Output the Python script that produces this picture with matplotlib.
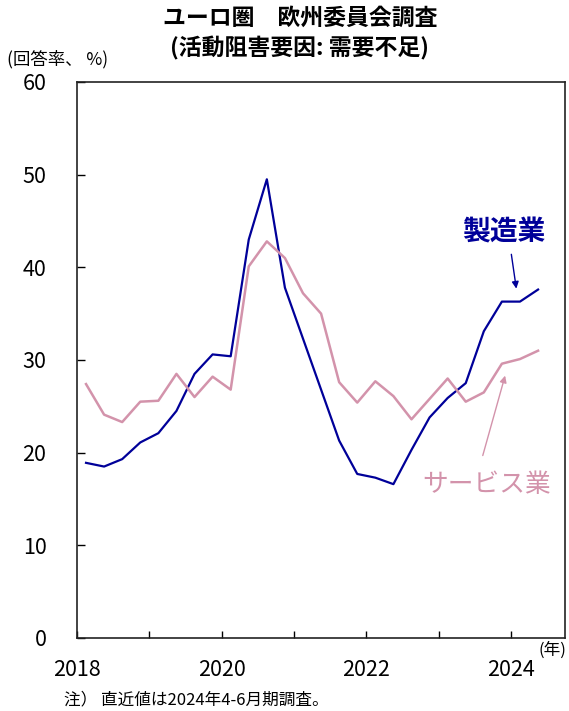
import numpy as np
import matplotlib.pyplot as plt

plt.rcParams['font.family'] = ['Noto Sans CJK JP', 'DejaVu Sans']

# quarterly, 2018Q1 .. 2024Q2 (plotted at mid-quarter)
quarters = np.arange(2018, 2024.5, 0.25) + 0.125
manufacturing = [18.9, 18.5, 19.3, 21.1, 22.1, 24.5, 28.5, 30.6, 30.4,
                 43.0, 49.5, 37.8, 32.3, 26.8, 21.3, 17.7, 17.3, 16.6,
                 20.3, 23.8, 25.9, 27.5, 33.1, 36.3, 36.3, 37.6]
services = [27.4, 24.1, 23.3, 25.5, 25.6, 28.5, 26.0, 28.2, 26.8,
            40.1, 42.8, 41.0, 37.2, 35.0, 27.6, 25.4, 27.7, 26.1,
            23.6, 25.8, 28.0, 25.5, 26.5, 29.6, 30.1, 31.0]

year_ticks = list(range(2018, 2025))
year_labels = [str(y) if y % 2 == 0 else '' for y in year_ticks]
y_ticks = [0, 10, 20, 30, 40, 50, 60]

blue = '#000099'
pink = '#d393ab'

fig = plt.figure(figsize=(5.69, 7.11), dpi=100)
ax = fig.add_axes([0.1353, 0.1027, 0.858, 0.782])

ax.plot(quarters, manufacturing, color=blue, lw=1.6)
ax.plot(quarters, services, color=pink, lw=1.8)

ax.set_xlim(2018, 2024.75)
ax.set_ylim(0, 60)
ax.set_xticks(year_ticks)
ax.set_xticklabels(year_labels)
ax.set_yticks(y_ticks)
ax.tick_params(axis='x', direction='in', length=5, width=1, pad=15, labelsize=15.5)
ax.tick_params(axis='y', direction='in', length=6, width=1, pad=22, labelsize=15.5)
for s in ax.spines.values():
    s.set_linewidth(1.2)
    s.set_color('#222222')

# annotations
ax.text(2023.9, 43.8, '製造業', color=blue, fontsize=20, fontweight='bold',
        ha='center', va='center')
ax.annotate('', xy=(2024.08, 37.4), xytext=(2024.0, 41.7),
            arrowprops=dict(arrowstyle='-|>', color=blue, lw=1, mutation_scale=10))
ax.text(2023.67, 16.5, 'サービス業', color=pink, fontsize=18.5,
        ha='center', va='center')
ax.annotate('', xy=(2023.93, 28.6), xytext=(2023.6, 19.4),
            arrowprops=dict(arrowstyle='-|>', color=pink, lw=1, mutation_scale=10))

fig.text(0.527, 0.974, 'ユーロ圏　欧州委員会調査', ha='center', va='center',
         fontsize=16.5, fontweight='bold')
fig.text(0.527, 0.932, '(活動阻害要因: 需要不足)', ha='center', va='center',
         fontsize=16.5, fontweight='bold')
fig.text(0.012, 0.916, '(回答率、 %)', ha='left', va='center', fontsize=12.5)
fig.text(0.995, 0.086, '(年)', ha='right', va='center', fontsize=12)
fig.text(0.112, 0.015, '注） 直近値は2024年4-6月期調査。', ha='left', va='center',
         fontsize=12)

fig.savefig('out.png', dpi=100)
